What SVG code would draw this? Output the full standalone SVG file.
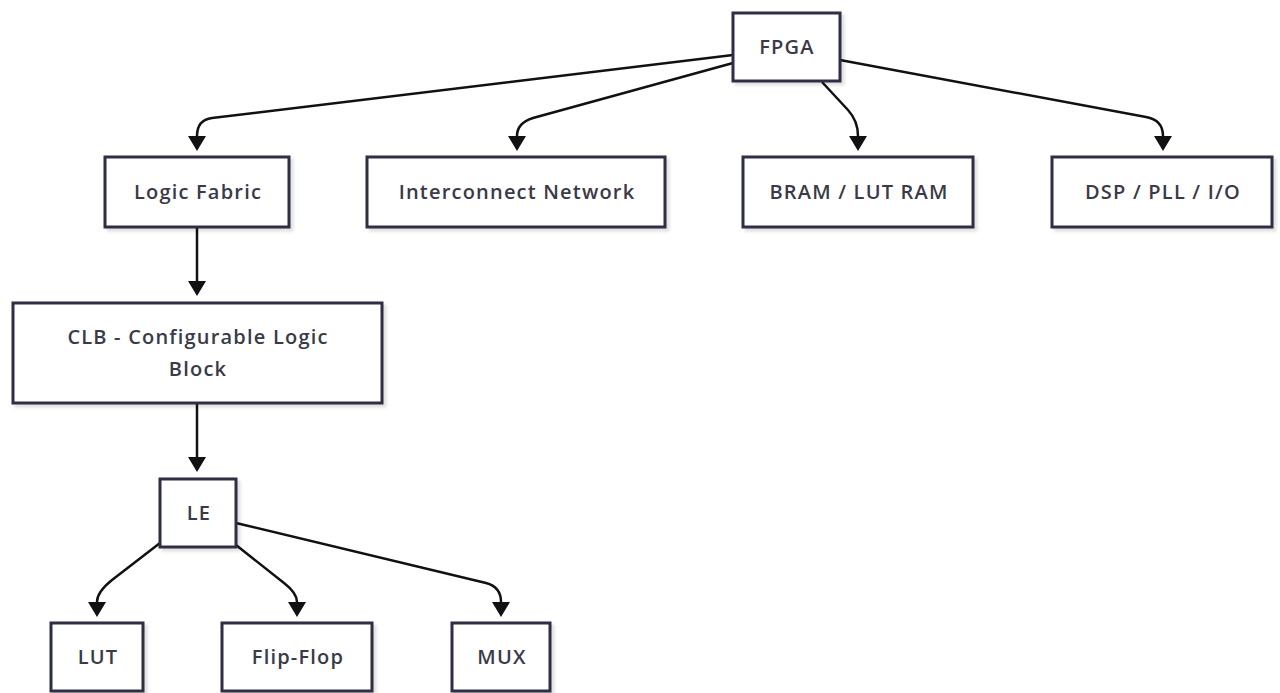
<svg xmlns="http://www.w3.org/2000/svg" width="1280" height="693" viewBox="0 0 1280 693">
  <defs>
    <marker id="arrow" viewBox="0 0 15 18" refX="0" refY="9" markerWidth="15" markerHeight="18" markerUnits="userSpaceOnUse" orient="auto">
      <path d="M0,0 L15,9 L0,18 z" fill="#111"/>
    </marker>
    <filter id="shadow" x="-10%" y="-10%" width="130%" height="140%">
      <feDropShadow dx="3" dy="3" stdDeviation="1.5" flood-color="#000" flood-opacity="0.12"/>
    </filter>
  </defs>
  <style>
    .box { fill: #ffffff; stroke: #2e2e45; stroke-width: 3; filter: url(#shadow); }
    .label { font-family: "Open Sans", "Noto Sans", sans-serif; font-size: 20px; font-weight: 600; letter-spacing: 1.2px; fill: #3a3a48; text-anchor: middle; }
    .edge { fill: none; stroke: #111; stroke-width: 2.5; marker-end: url(#arrow); }
  </style>
  <rect width="1280" height="693" fill="#ffffff"/>

  <g id="connectors">
    <path class="edge" d="M733,55 L212,118 Q197,120 197,136"/>
    <path class="edge" d="M733,63 L533,118 Q517,123 517,136"/>
    <path class="edge" d="M822,82 L848,110 Q858,121 858,136"/>
    <path class="edge" d="M840,60 L1146,117 Q1163,120 1163,136"/>
    <path class="edge" d="M197,228 L197,281"/>
    <path class="edge" d="M197,404 L197,457"/>
    <path class="edge" d="M160,543 L112,580 Q97,592 97,602"/>
    <path class="edge" d="M236,545 L284,583 Q297,593 297,602"/>
    <path class="edge" d="M236,523 L486,583 Q501,587 501,602"/>
  </g>

  <g id="node-fpga">
    <rect class="box" x="733" y="13" width="107" height="68"/>
    <text class="label" x="787" y="54">FPGA</text>
  </g>
  <g id="node-logic-fabric">
    <rect class="box" x="105" y="157" width="184" height="70"/>
    <text class="label" x="198" y="199">Logic Fabric</text>
  </g>
  <g id="node-interconnect">
    <rect class="box" x="367" y="157" width="298" height="70"/>
    <text class="label" x="517" y="199">Interconnect Network</text>
  </g>
  <g id="node-bram">
    <rect class="box" x="743" y="157" width="230" height="70"/>
    <text class="label" x="859" y="199">BRAM / LUT RAM</text>
  </g>
  <g id="node-dsp">
    <rect class="box" x="1052" y="157" width="220" height="70"/>
    <text class="label" x="1163" y="199">DSP / PLL / I/O</text>
  </g>
  <g id="node-clb">
    <rect class="box" x="13" y="303" width="369" height="100"/>
    <text class="label" x="198" y="344">CLB - Configurable Logic</text>
    <text class="label" x="198" y="376">Block</text>
  </g>
  <g id="node-le">
    <rect class="box" x="160" y="479" width="76" height="68"/>
    <text class="label" x="199" y="520">LE</text>
  </g>
  <g id="node-lut">
    <rect class="box" x="51" y="623" width="92" height="68"/>
    <text class="label" x="98" y="664">LUT</text>
  </g>
  <g id="node-flipflop">
    <rect class="box" x="222" y="623" width="150" height="68"/>
    <text class="label" x="298" y="664">Flip-Flop</text>
  </g>
  <g id="node-mux">
    <rect class="box" x="452" y="623" width="98" height="68"/>
    <text class="label" x="502" y="664">MUX</text>
  </g>
</svg>
